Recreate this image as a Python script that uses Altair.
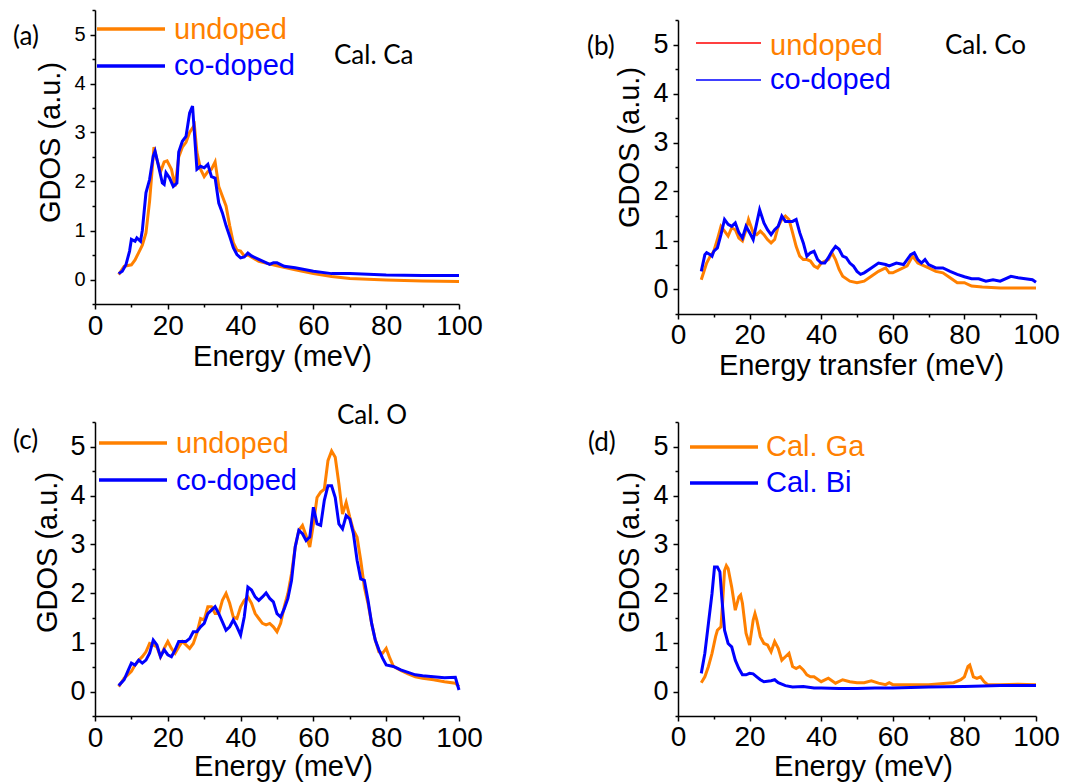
import altair as alt
import pandas as pd

ORANGE = "#FF8000"
BLUE = "#0000FF"
RED = "#FF0000"
SANS = "Liberation Sans"
CAL = "Lato"

# ---------------- data (Energy meV, GDOS a.u.) ----------------
a_undoped = [(6.5, 0.1), (8, 0.27), (10, 0.3), (11, 0.4), (12, 0.55), (13, 0.7), (14, 0.95),
             (15, 1.6), (16.2, 2.7), (17, 2.45), (18, 2.2), (19, 2.4), (19.8, 2.42), (21, 2.25),
             (22, 1.9), (23, 2.5), (24, 2.7), (25, 2.8), (26, 3.0), (27.3, 3.15), (28, 2.6),
             (29, 2.25), (30, 2.1), (31, 2.2), (32, 2.25), (33, 2.4), (34, 1.9), (35, 1.7),
             (36, 1.5), (37, 1.1), (38, 0.75), (39, 0.6), (40, 0.58), (41, 0.48), (42, 0.5),
             (45, 0.37), (50, 0.28), (55, 0.2), (60, 0.12), (65, 0.06), (70, 0.02), (80, -0.01),
             (90, -0.03), (100, -0.04)]
a_codoped = [(6.5, 0.12), (7.5, 0.17), (8.5, 0.3), (9.5, 0.58), (10, 0.82), (11, 0.78), (11.5, 0.85),
             (12.5, 0.78), (13, 1.0), (14, 1.77), (15, 2.04), (16, 2.52), (16.5, 2.62), (17.5, 2.3),
             (18.5, 1.97), (19, 1.94), (19.5, 2.18), (20.5, 2.07), (21.5, 1.9), (22.5, 1.97),
             (23, 2.6), (24, 2.82), (25, 2.92), (25.5, 3.16), (26, 3.4), (26.8, 3.54), (27.3, 3.0),
             (28, 2.25), (29, 2.31), (30, 2.28), (31, 2.35), (32, 2.1), (33, 2.07), (34, 1.56),
             (35, 1.36), (36, 1.1), (37, 0.88), (38, 0.65), (39, 0.51), (40, 0.44), (41, 0.46),
             (42, 0.54), (43, 0.48), (45, 0.41), (48, 0.31), (49, 0.34), (50, 0.34), (52, 0.27),
             (55, 0.24), (60, 0.17), (65, 0.12), (70, 0.12), (80, 0.09), (90, 0.08), (100, 0.08)]

b_undoped = [(6.5, 0.2), (8, 0.54), (9, 0.68), (10, 0.78), (11, 1.02), (12, 1.29), (13, 1.19),
             (14, 1.09), (15, 1.26), (16, 1.22), (17, 1.05), (18, 0.99), (19, 1.22), (19.7, 1.43),
             (21, 1.16), (22, 1.12), (23, 1.19), (24, 1.12), (25, 1.02), (26, 0.95), (27, 1.02),
             (28, 1.29), (29, 1.43), (30, 1.5), (31, 1.43), (32, 1.16), (33, 0.88), (34, 0.68),
             (35, 0.61), (36, 0.61), (37, 0.58), (38, 0.48), (39, 0.44), (40, 0.54), (42, 0.61),
             (43, 0.75), (44, 0.61), (45, 0.41), (46, 0.27), (48, 0.17), (50, 0.14), (52, 0.17),
             (54, 0.27), (56, 0.37), (58, 0.44), (59, 0.34), (60, 0.34), (62, 0.41), (64, 0.48),
             (65.5, 0.68), (67, 0.54), (70, 0.44), (72, 0.37), (74, 0.34), (76, 0.24), (78, 0.14),
             (80, 0.14), (82, 0.07), (85, 0.05), (90, 0.03), (95, 0.03), (100, 0.03)]
b_codoped = [(6.5, 0.37), (7.5, 0.71), (8, 0.75), (9, 0.71), (9.5, 0.68), (10, 0.78), (11, 0.85),
             (12, 1.12), (13, 1.43), (14, 1.33), (15, 1.29), (16, 1.36), (17, 1.16), (18, 1.05),
             (19, 1.29), (20, 1.16), (21, 1.02), (22, 1.36), (22.8, 1.63), (24, 1.36), (25, 1.22),
             (26, 1.12), (27, 1.22), (28, 1.29), (29, 1.5), (30, 1.39), (31, 1.39), (32, 1.39),
             (33, 1.43), (34, 1.16), (35, 0.95), (36, 0.68), (37, 0.75), (38, 0.78), (39, 0.61),
             (40, 0.54), (41, 0.54), (42, 0.65), (43, 0.78), (44, 0.88), (45, 0.82), (46, 0.68),
             (47, 0.65), (48, 0.54), (49, 0.48), (50, 0.37), (51, 0.31), (52, 0.34), (54, 0.44),
             (56, 0.54), (58, 0.51), (59, 0.48), (61, 0.54), (63, 0.51), (65, 0.71), (66, 0.75),
             (67, 0.61), (68, 0.54), (69, 0.61), (70, 0.51), (72, 0.44), (74, 0.44), (76, 0.37),
             (78, 0.31), (80, 0.26), (82, 0.22), (84, 0.22), (86, 0.17), (88, 0.2), (90, 0.17),
             (93, 0.27), (95, 0.24), (97, 0.22), (99, 0.2), (100, 0.15)]

c_undoped = [(6.5, 0.1), (8, 0.27), (9, 0.34), (10, 0.41), (11, 0.54), (12, 0.64), (13, 0.71),
             (14, 0.81), (15, 0.98), (16, 0.95), (17, 0.91), (18, 0.71), (19, 0.88), (20, 1.02),
             (21, 0.88), (22, 0.78), (23, 0.91), (24, 1.02), (25, 0.95), (26, 0.88), (27, 0.98),
             (28, 1.19), (29, 1.49), (30, 1.46), (31, 1.73), (32, 1.73), (33, 1.59), (34, 1.59),
             (35, 1.86), (36, 2.0), (37, 1.8), (38, 1.52), (39, 1.49), (40, 1.73), (41, 1.86),
             (42, 1.93), (43, 1.8), (44, 1.59), (45, 1.49), (46, 1.39), (47, 1.36), (48, 1.39),
             (49, 1.32), (50, 1.22), (51, 1.39), (52, 1.73), (53, 2.0), (54, 2.41), (55, 2.95),
             (56, 3.29), (57, 3.39), (58, 3.18), (59, 2.95), (60, 3.42), (61, 3.96), (62, 4.07),
             (63, 4.13), (64, 4.71), (65, 4.91), (66, 4.78), (67, 4.24), (68, 3.62), (69, 3.86),
             (70, 3.56), (71, 3.29), (72, 3.15), (73, 2.68), (74, 2.13), (75, 1.8), (76, 1.39),
             (77, 1.05), (78, 0.81), (79, 0.78), (80, 0.88), (81, 0.68), (82, 0.51), (84, 0.43),
             (86, 0.36), (88, 0.3), (90, 0.27), (93, 0.24), (96, 0.2), (99, 0.17), (100, 0.1)]
c_codoped = [(6.5, 0.12), (8, 0.24), (9, 0.41), (10, 0.58), (11, 0.54), (12, 0.64), (13, 0.58),
             (14, 0.64), (15, 0.78), (16, 1.05), (17, 0.95), (18, 0.71), (19, 0.85), (20, 0.75),
             (21, 0.71), (22, 0.85), (23, 1.02), (24, 1.02), (25, 1.02), (26, 1.08), (27, 1.22),
             (28, 1.22), (29, 1.32), (30, 1.39), (31, 1.59), (32, 1.66), (33, 1.73), (34, 1.59),
             (35, 1.42), (36, 1.25), (37, 1.32), (38, 1.46), (39, 1.32), (40, 1.15), (41, 1.52),
             (42, 2.13), (43, 2.07), (44, 1.93), (45, 1.86), (46, 1.93), (47, 2.01), (48, 1.9),
             (49, 1.83), (50, 1.59), (51, 1.52), (52, 1.69), (53, 1.9), (54, 2.27), (55, 2.95),
             (56, 3.29), (57, 3.22), (58, 3.08), (59, 3.15), (60, 3.76), (61, 3.42), (62, 3.39),
             (63, 3.9), (64, 4.2), (65, 4.2), (66, 3.96), (67, 3.42), (68, 3.32), (69, 3.59),
             (70, 3.52), (71, 3.22), (72, 2.68), (73, 2.3), (74, 2.27), (75, 1.86), (76, 1.39),
             (77, 1.05), (78, 0.85), (79, 0.68), (80, 0.54), (82, 0.51), (84, 0.44), (86, 0.39),
             (88, 0.34), (90, 0.32), (93, 0.3), (96, 0.28), (99, 0.29), (100, 0.03)]

d_ga = [(6.5, 0.18), (7.5, 0.3), (8.5, 0.51), (9.5, 0.78), (10.5, 1.12), (11, 1.25), (12, 1.32),
        (12.5, 1.86), (13, 2.47), (13.5, 2.57), (14, 2.51), (15, 2.13), (16, 1.66), (17, 1.93),
        (17.5, 1.97), (18, 1.8), (19, 1.19), (20, 0.95), (21, 1.46), (21.5, 1.59), (22, 1.46),
        (23, 1.12), (24, 0.98), (25, 0.95), (26, 0.81), (27, 1.02), (28, 0.88), (29, 0.64),
        (30, 0.71), (31, 0.78), (32, 0.51), (33, 0.47), (34, 0.51), (35, 0.44), (36, 0.34),
        (37, 0.3), (38, 0.3), (40, 0.2), (42, 0.27), (44, 0.17), (46, 0.24), (48, 0.2), (50, 0.18),
        (52, 0.18), (54, 0.22), (56, 0.17), (58, 0.14), (59, 0.18), (60, 0.14), (65, 0.14),
        (70, 0.14), (75, 0.17), (77, 0.18), (79, 0.24), (80, 0.3), (81, 0.51), (81.5, 0.54),
        (82.5, 0.3), (83.5, 0.27), (84.5, 0.3), (85.5, 0.2), (86.5, 0.14), (90, 0.14), (95, 0.15),
        (100, 0.14)]
d_bi = [(6.5, 0.37), (7.5, 0.78), (8.5, 1.39), (9.5, 2.0), (10.2, 2.54), (11, 2.54), (11.7, 2.44),
        (12.3, 1.86), (13, 1.25), (14, 0.98), (15, 0.91), (16, 0.64), (17, 0.47), (18, 0.34),
        (19, 0.34), (20, 0.37), (21, 0.36), (22, 0.3), (23, 0.24), (24, 0.2), (26, 0.22),
        (27, 0.24), (28, 0.18), (30, 0.12), (32, 0.09), (35, 0.1), (38, 0.07), (40, 0.07),
        (45, 0.06), (50, 0.06), (55, 0.07), (60, 0.07), (70, 0.09), (80, 0.1), (90, 0.12),
        (100, 0.12)]

X_TICKS = [0, 10, 20, 30, 40, 50, 60, 70, 80, 90, 100]
Y_TICKS = [-0.5, 0, 0.5, 1, 1.5, 2, 2.5, 3, 3.5, 4, 4.5, 5, 5.5]

ONE = pd.DataFrame({"k": [0]})


def frame(pairs):
    return pd.DataFrame({"Energy": [p[0] for p in pairs], "GDOS": [p[1] for p in pairs]})


def txt(label, x, y, color="black", font=SANS, size=29):
    return alt.Chart(ONE).mark_text(
        align="left", baseline="middle", font=font, fontSize=size, color=color
    ).encode(x=alt.value(x), y=alt.value(y), text=alt.value(label))


def seg(x1, x2, y, color, w):
    return alt.Chart(ONE).mark_rule(color=color, strokeWidth=w).encode(
        x=alt.value(x1), x2=alt.value(x2), y=alt.value(y)
    )


def panel(orange, blue, width, height, xtitle, xtitle_x, xtitle_y, ylab_size,
          ytitle_x, ytitle_y, annotations, yrange=None, xlab_pad=25):
    xaxis = alt.Axis(
        values=X_TICKS,
        labelExpr="datum.value % 20 === 0 ? format(datum.value, 'd') : ''",
        tickSize={"condition": {"test": "datum.value % 20 !== 0", "value": 3}, "value": 5},
        tickWidth=1.5, tickColor="black", domainWidth=1.5, domainColor="black",
        labelFont=SANS, labelFontSize=28, labelColor="black",
        labelBaseline="alphabetic", labelPadding=xlab_pad, labelFlush=False, labelOverlap=False,
        title=xtitle, titleFont=SANS, titleFontSize=29, titleFontWeight="normal",
        titleColor="black", titleBaseline="alphabetic", titleAlign="center",
        titleX=xtitle_x, titleY=xtitle_y, grid=False,
    )
    yaxis = alt.Axis(
        values=Y_TICKS,
        labelExpr="datum.value % 1 === 0 ? format(datum.value, 'd') : ''",
        tickSize={"condition": {"test": "datum.value % 1 !== 0", "value": 3}, "value": 5},
        tickWidth=1.5, tickColor="black", domainWidth=1.5, domainColor="black",
        labelFont=SANS, labelFontSize=ylab_size, labelColor="black",
        labelPadding=5, labelFlush=False, labelOverlap=False,
        title="GDOS (a.u.)", titleFont=SANS, titleFontSize=29, titleFontWeight="normal",
        titleColor="black", titleBaseline="middle", titleAlign="center", titleAngle=270,
        titleX=ytitle_x, titleY=ytitle_y, grid=False,
    )
    if yrange is not None:
        yscale = alt.Scale(domain=[-0.5, 5.5], nice=False, zero=False, range=yrange)
    else:
        yscale = alt.Scale(domain=[-0.5, 5.5], nice=False, zero=False)
    x = alt.X("Energy:Q", scale=alt.Scale(domain=[0, 100], nice=False, zero=False), axis=xaxis)
    y = alt.Y("GDOS:Q", scale=yscale, axis=yaxis)
    l1 = alt.Chart(frame(orange)).mark_line(color=ORANGE, strokeWidth=3).encode(x=x, y=y)
    l2 = alt.Chart(frame(blue)).mark_line(color=BLUE, strokeWidth=3).encode(x=x, y=y)
    return alt.layer(l1, l2, *annotations).properties(width=width, height=height)


pa = panel(
    a_undoped, a_codoped, 364, 294, "Energy (meV)", 187, 61, 20, -45, 132,
    [
        seg(2, 70, 19, ORANGE, 3.5), txt("undoped", 79, 20, ORANGE),
        seg(2, 70, 56, BLUE, 3.5), txt("co-doped", 79, 56, BLUE),
        txt("Cal. Ca", 239, 46, font=CAL, size=26),
        txt("(a)", -82, 27, font=CAL, size=26),
    ],
)
pb = panel(
    b_undoped, b_codoped, 358, 304, "Energy transfer (meV)", 183, 60, 27, -49, 137,
    [
        seg(18, 83, 33, RED, 1.5), txt("undoped", 92, 36, ORANGE),
        seg(18, 83, 70, BLUE, 1.5), txt("co-doped", 92, 70, BLUE),
        txt("Cal. Co", 267, 36, font=CAL, size=26),
        txt("(b)", -91, 37, font=CAL, size=26),
    ],
    yrange=[304, 10], xlab_pad=24,
)
pc = panel(
    c_undoped, c_codoped, 364, 294, "Energy (meV)", 188, 59, 27, -48, 130,
    [
        seg(4, 72, 21, ORANGE, 3.5), txt("undoped", 81, 22, ORANGE),
        seg(4, 72, 58, BLUE, 3.5), txt("co-doped", 81, 59, BLUE),
        txt("Cal. O", 242, -6, font=CAL, size=26),
        txt("(c)", -82, 19, font=CAL, size=26),
    ],
)
pd_ = panel(
    d_ga, d_bi, 358, 294, "Energy (meV)", 185, 59, 27, -49, 130,
    [
        seg(12, 80, 25, ORANGE, 3.5), txt("Cal. Ga", 88, 25, ORANGE),
        seg(12, 80, 61, BLUE, 3.5), txt("Cal. Bi", 88, 61, BLUE),
        txt("(d)", -90, 21, font=CAL, size=26),
    ],
    xlab_pad=24,
)

chart = alt.concat(
    pa, pb, pc, pd_, columns=2, spacing={"row": 108, "column": 219}, bounds="flush"
).properties(
    padding={"left": 13, "top": 0, "right": 5, "bottom": 2},
    background="white",
).configure_view(strokeWidth=0)

chart.save("out.html", embed_options={"renderer": "svg", "actions": False})
